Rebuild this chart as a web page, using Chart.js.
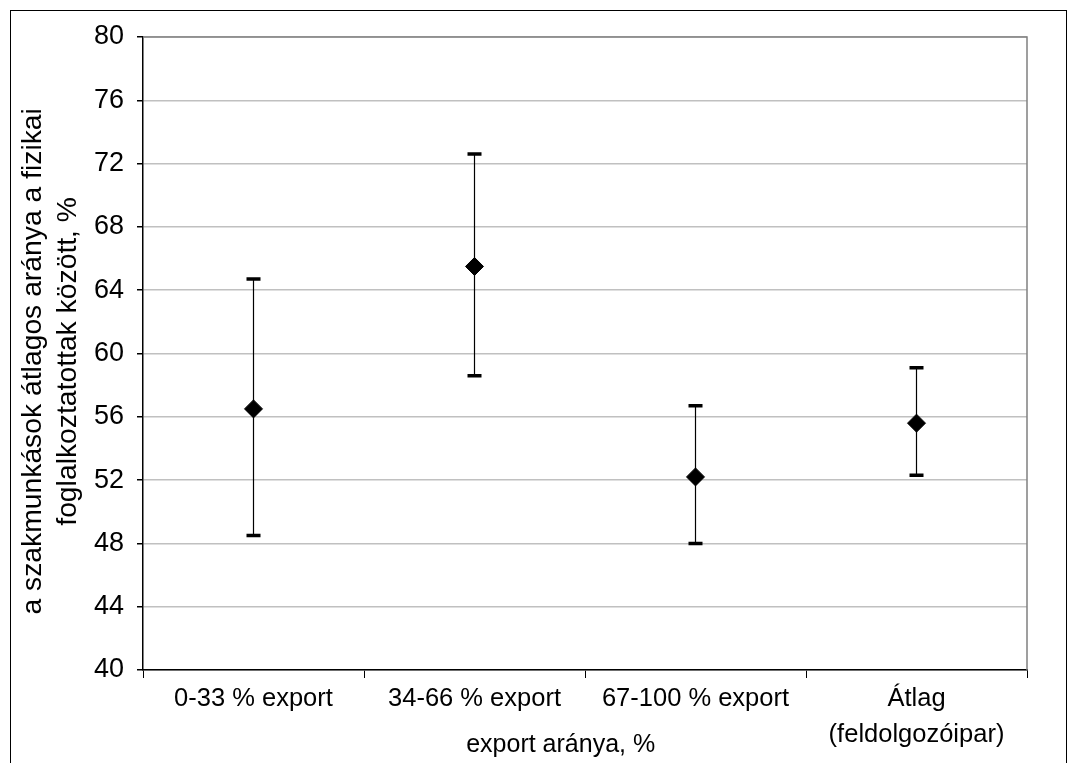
<!DOCTYPE html>
<html>
<head>
<meta charset="utf-8">
<script src="https://cdn.jsdelivr.net/npm/chart.js@4"></script>
<style>
  html, body { margin: 0; padding: 0; background: #fff; }
  #frame { position: absolute; left: 10px; top: 10px; width: 1055px; height: 800px; border: 1px solid #000; }
  #wrap { position: absolute; left: 0; top: 0; width: 1072px; height: 763px; }
</style>
</head>
<body>
<div id="frame"></div>
<div id="wrap"><canvas id="chartCanvas" width="1072" height="763"></canvas></div>
<script>
// chart data
var categories = ["0-33 % export", "34-66 % export", "67-100 % export", ["Átlag", "(feldolgozóipar)"]];
var meanValues = [56.5, 65.5, 52.2, 55.6];
var upperValues = [64.7, 72.6, 56.7, 59.1];
var lowerValues = [48.5, 58.6, 48.0, 52.3];
var yTicks = [40, 44, 48, 52, 56, 60, 64, 68, 72, 76, 80];

// trailing spaces nudge the centred titles to where the original had them
var yTitle = ["a szakmunkások átlagos aránya a fizikai  ", "foglalkoztatottak között, %  "];
var xTitle = "export aránya, %       ";

var fontName = "'Liberation Sans', Arial, sans-serif";

// draws the min/max whiskers under the diamonds
var errorBars = {
    id: "errorBars",
    beforeDatasetsDraw: function (chart) {
        var ctx = chart.ctx;
        var xs = chart.scales.x;
        var ys = chart.scales.y;
        ctx.save();
        ctx.strokeStyle = "#000";
        for (var i = 0; i < meanValues.length; i++) {
            var x = xs.getPixelForValue(i);
            var top = ys.getPixelForValue(upperValues[i]);
            var bot = ys.getPixelForValue(lowerValues[i]);
            ctx.lineWidth = 1.2;
            ctx.beginPath();
            ctx.moveTo(x, top);
            ctx.lineTo(x, bot);
            ctx.stroke();
            ctx.lineWidth = 3.5;
            ctx.beginPath();
            ctx.moveTo(x - 7, top);
            ctx.lineTo(x + 7, top);
            ctx.moveTo(x - 7, bot);
            ctx.lineTo(x + 7, bot);
            ctx.stroke();
        }
        ctx.restore();
    },
    afterDraw: function (chart) {
        var a = chart.chartArea;
        var ctx = chart.ctx;
        ctx.save();
        ctx.strokeStyle = "#808080";
        ctx.lineWidth = 1.5;
        ctx.beginPath();
        ctx.moveTo(a.left, a.top);
        ctx.lineTo(a.right, a.top);
        ctx.lineTo(a.right, a.bottom);
        ctx.stroke();
        ctx.restore();
    }
};

var chart = new Chart(document.getElementById("chartCanvas"), {
    type: "line",
    data: {
        labels: categories,
        datasets: [{
            label: "átlag",
            data: meanValues,
            showLine: false,
            pointStyle: "rectRot",
            pointRadius: 9,
            pointHoverRadius: 9,
            backgroundColor: "#000",
            borderColor: "#000",
            borderWidth: 1
        }]
    },
    options: {
        responsive: false,
        animation: false,
        events: [],
        layout: { padding: { top: 37, right: 45, left: 0, bottom: 0 } },
        plugins: {
            legend: { display: false },
            tooltip: { enabled: false }
        },
        scales: {
            x: {
                offset: true,
                grid: {
                    offset: true,
                    drawOnChartArea: false,
                    tickLength: 8,
                    color: "#000",
                    tickColor: "#000"
                },
                border: { color: "#000", width: 1.5 },
                ticks: {
                    autoSkip: false,
                    maxRotation: 0,
                    padding: 3,
                    color: "#000",
                    font: { family: fontName, size: 25.5, lineHeight: 1.4 }
                },
                title: {
                    display: true,
                    text: xTitle,
                    color: "#000",
                    padding: { top: 0, bottom: 3 },
                    font: { family: fontName, size: 25, lineHeight: 1.2 }
                },
                afterFit: function (scale) { scale.height = 93; }
            },
            y: {
                min: yTicks[0],
                max: yTicks[yTicks.length - 1],
                afterBuildTicks: function (scale) {
                    scale.ticks = yTicks.map(function (v) { return { value: v }; });
                },
                grid: {
                    color: "#c0c0c0",
                    lineWidth: 1.5,
                    tickColor: "#000",
                    tickLength: 6
                },
                border: { color: "#000", width: 1.5 },
                ticks: {
                    padding: 13,
                    color: "#000",
                    font: { family: fontName, size: 27 }
                },
                title: {
                    display: true,
                    text: yTitle,
                    color: "#000",
                    padding: { top: 16, bottom: 0 },
                    font: { family: fontName, size: 28.3, lineHeight: 1.24 }
                },
                afterFit: function (scale) { scale.width = 143; }
            }
        }
    },
    plugins: [errorBars]
});
</script>
</body>
</html>
